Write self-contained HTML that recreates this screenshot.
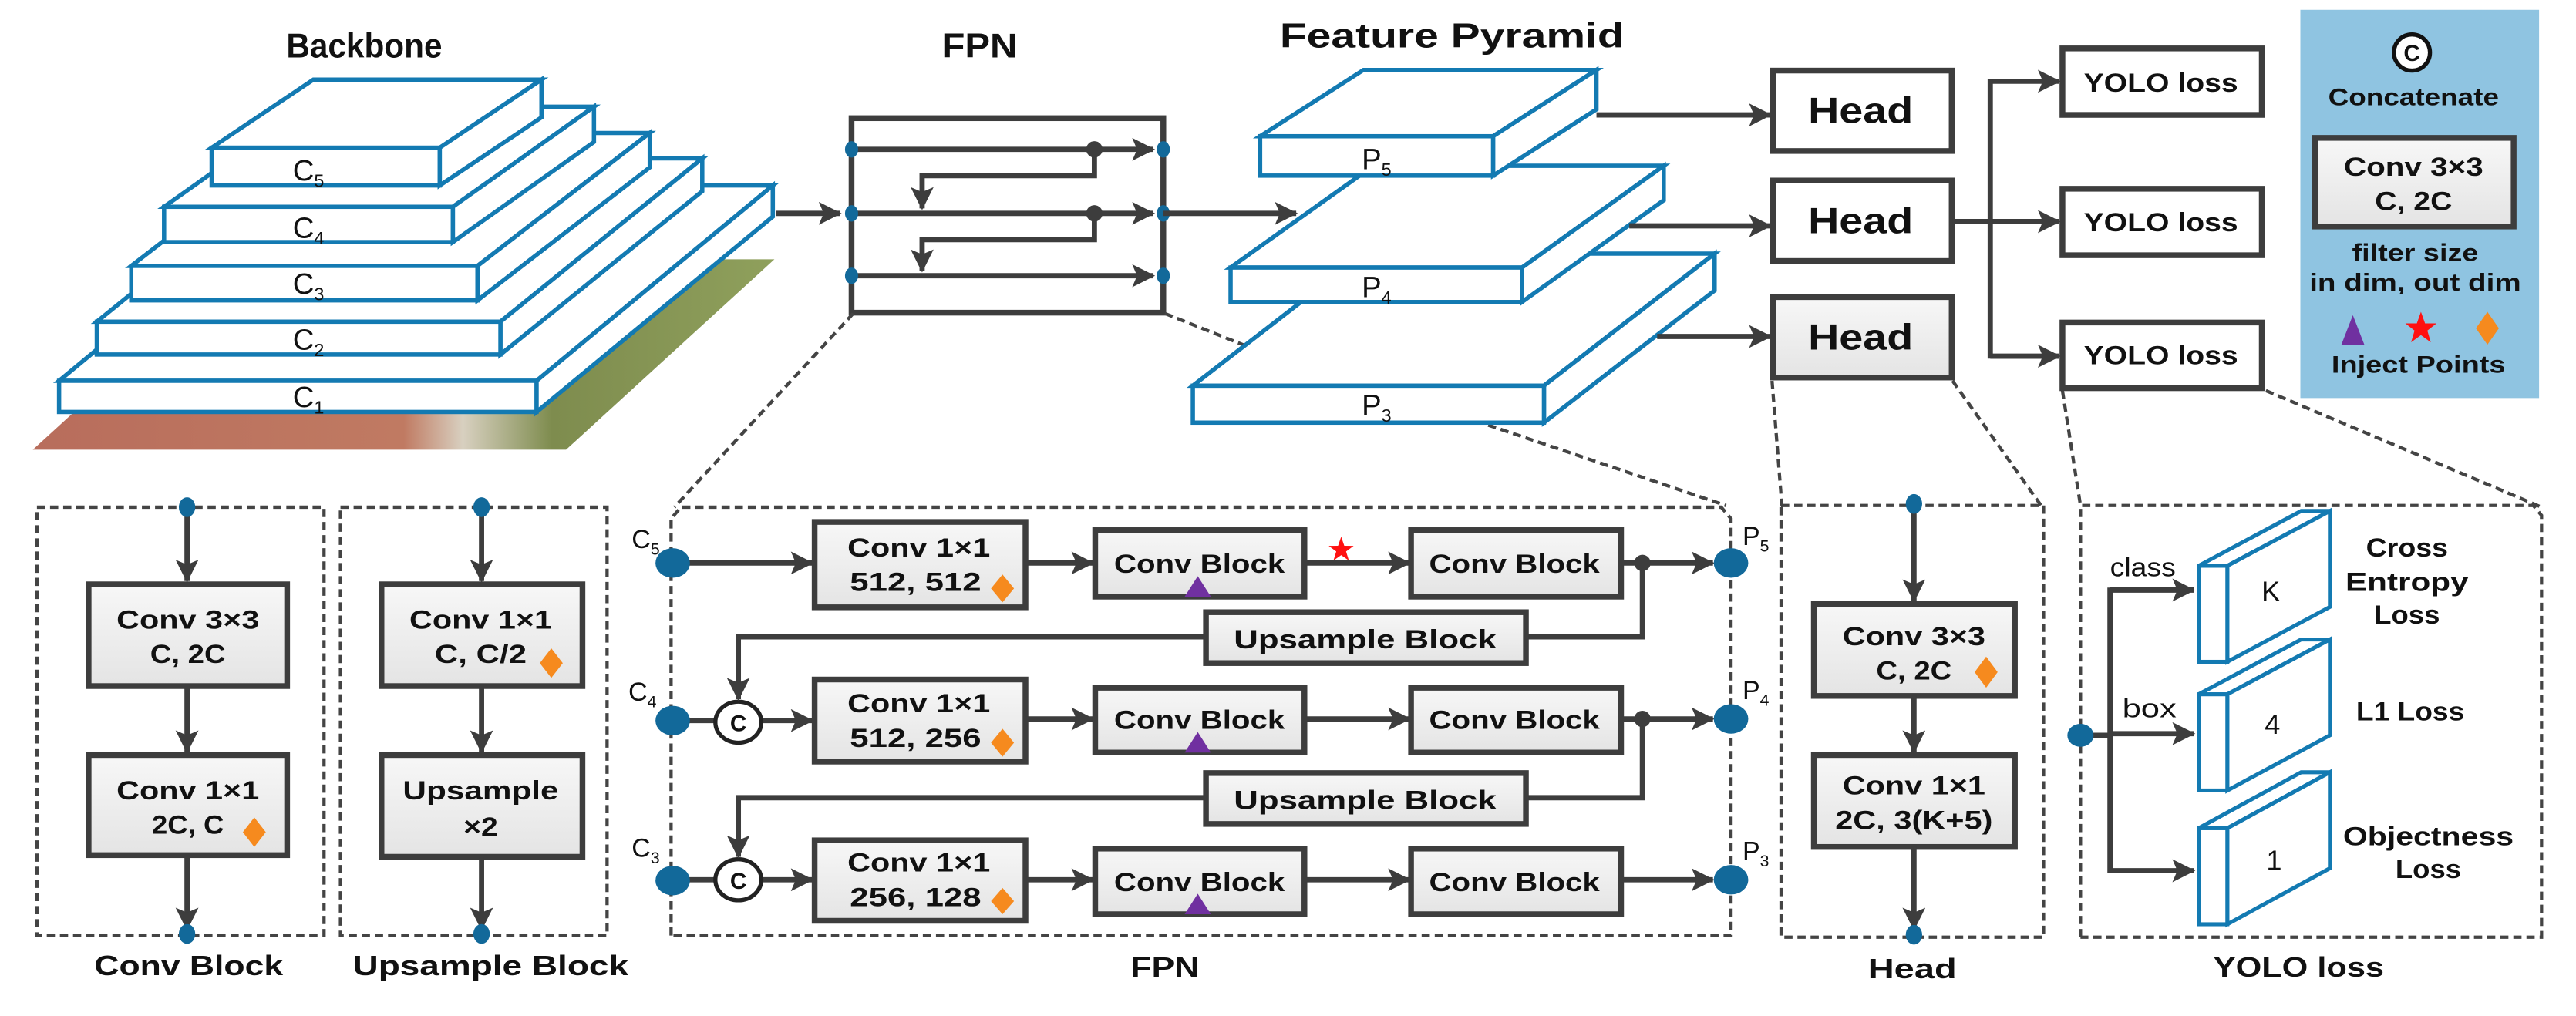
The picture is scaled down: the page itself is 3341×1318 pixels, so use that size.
<!DOCTYPE html>
<html><head><meta charset="utf-8"><style>
html,body{margin:0;padding:0;background:#fff;}
svg{display:block;}
text{font-family:"Liberation Sans",sans-serif;fill:#111;}
.b{font-weight:bold;}
</style></head><body>
<svg width="3341" height="1318" viewBox="0 0 1570 619" preserveAspectRatio="none" xmlns="http://www.w3.org/2000/svg">
<defs>
<marker id="a" markerUnits="userSpaceOnUse" markerWidth="14" markerHeight="14" refX="13" refY="7" orient="auto"><path d="M0,0 L14,7 L0,14 L3,7 z" fill="#3d3d3d"/></marker>
<linearGradient id="g" x1="0" y1="0" x2="0" y2="1"><stop offset="0" stop-color="#f7f7f7"/><stop offset="1" stop-color="#e4e4e4"/></linearGradient>
<linearGradient id="ph" x1="0" y1="0" x2="1" y2="0"><stop offset="0" stop-color="#b86d5c"/><stop offset="0.5" stop-color="#c07a62"/><stop offset="0.58" stop-color="#d8d0c0"/><stop offset="0.7" stop-color="#7e8c4e"/><stop offset="1" stop-color="#8fa05c"/></linearGradient>
</defs>
<g fill="none" stroke="#3d3d3d" stroke-width="3.2">

<!-- photo -->
<polygon points="20,274 345,274 472,158 147,158" fill="url(#ph)" stroke="none"/>

<!-- backbone slabs -->
<g stroke="#137ab2" stroke-width="2.6" fill="#fff" stroke-linejoin="miter">
<polygon points="36,232 180,113 471,113 327,232"/><polygon points="327,232 471,113 471,132 327,251"/><rect x="36" y="232" width="291" height="19"/>
<polygon points="59,196 182,96.5 428,96.5 305,196"/><polygon points="305,196 428,96.5 428,116.5 305,216"/><rect x="59" y="196" width="246" height="20"/>
<polygon points="80,162 185,81 396,81 291,162"/><polygon points="291,162 396,81 396,102 291,183"/><rect x="80" y="162" width="211" height="21"/>
<polygon points="100,126 186,65 362,65 276,126"/><polygon points="276,126 362,65 362,86.5 276,147.5"/><rect x="100" y="126" width="176" height="21.5"/>
<polygon points="129,90 191,48.5 330,48.5 268,90"/><polygon points="268,90 330,48.5 330,71.5 268,113"/><rect x="129" y="90" width="139" height="23"/>
</g>

<!-- backbone -> FPN arrow -->
<line x1="473" y1="130" x2="512" y2="130" marker-end="url(#a)"/>

<!-- FPN small -->
<rect x="519" y="72" width="190" height="118.5" stroke-width="3.5"/>
<line x1="519" y1="91" x2="703" y2="91" marker-end="url(#a)"/>
<line x1="519" y1="130" x2="703" y2="130" marker-end="url(#a)"/>
<line x1="519" y1="168" x2="703" y2="168" marker-end="url(#a)"/>
<polyline points="667,91 667,107 562,107 562,127" marker-end="url(#a)"/>
<polyline points="667,130 667,146 562,146 562,165" marker-end="url(#a)"/>
<circle cx="667" cy="91" r="5" fill="#3d3d3d" stroke="none"/>
<circle cx="667" cy="130" r="5" fill="#3d3d3d" stroke="none"/>
<g fill="#12699a" stroke="none">
<ellipse cx="519" cy="91" rx="4" ry="5"/><ellipse cx="519" cy="130" rx="4" ry="5"/><ellipse cx="519" cy="168" rx="4" ry="5"/>
<ellipse cx="709" cy="91" rx="4" ry="5"/><ellipse cx="709" cy="130" rx="4" ry="5"/><ellipse cx="709" cy="168" rx="4" ry="5"/>
</g>

<!-- dashed zoom lines -->
<g stroke="#444" stroke-width="2" stroke-dasharray="5,3">
<line x1="520" y1="191" x2="411" y2="309"/>
<line x1="710" y1="191" x2="770" y2="215"/>
<line x1="907" y1="259" x2="1052" y2="308"/>
<line x1="1080" y1="232" x2="1086" y2="308"/>
<line x1="1190" y1="232" x2="1244" y2="308"/>
<line x1="1257" y1="238" x2="1268" y2="308"/>
<line x1="1381" y1="238" x2="1549" y2="309"/>
</g>

<!-- pyramid -->
<g stroke="#137ab2" stroke-width="2.6" fill="#fff">
<polygon points="727,235 831,154.5 1045,154.5 941,235"/><polygon points="941,235 1045,154.5 1045,177 941,257.5"/><rect x="727" y="235" width="214" height="22.5"/>
<polygon points="750,163 837,101 1014,101 927.6,163"/><polygon points="927.6,163 1014,101 1014,122 927.6,184"/><rect x="750" y="163" width="177.6" height="21"/>
<polygon points="768,83 831,42.6 973,42.6 910,83"/><polygon points="910,83 973,42.6 973,66.6 910,107"/><rect x="768" y="83" width="142" height="24"/>
</g>
<line x1="709" y1="130" x2="790" y2="130" marker-end="url(#a)"/>

<!-- pyramid -> heads -->
<line x1="973" y1="70" x2="1079" y2="70" marker-end="url(#a)"/>
<line x1="993" y1="137.6" x2="1079" y2="137.6" marker-end="url(#a)"/>
<line x1="1010" y1="205" x2="1079" y2="205" marker-end="url(#a)"/>
<rect x="1080.5" y="43" width="109" height="49" fill="#fff" stroke-width="3.5"/>
<rect x="1080.5" y="110" width="109" height="49" fill="#fff" stroke-width="3.5"/>
<rect x="1080.5" y="181" width="109" height="49" fill="url(#g)" stroke-width="3.5"/>

<!-- heads -> yolo -->
<line x1="1190" y1="135" x2="1255" y2="135" marker-end="url(#a)"/>
<polyline points="1255,49.5 1213,49.5 1213,217 1255,217" stroke="none"/>
<line x1="1213" y1="49.5" x2="1255" y2="49.5" marker-end="url(#a)"/>
<line x1="1213" y1="217" x2="1255" y2="217" marker-end="url(#a)"/>
<line x1="1213" y1="48" x2="1213" y2="218.5"/>
<rect x="1257" y="29.5" width="121.5" height="40.5" fill="#fff" stroke-width="3.5"/>
<rect x="1257" y="115" width="121.5" height="40.5" fill="#fff" stroke-width="3.5"/>
<rect x="1257" y="196.5" width="121.5" height="40" fill="#fff" stroke-width="3.5"/>

<!-- legend -->
<rect x="1402" y="6" width="145.5" height="236.5" fill="#8fc4e1" stroke="none"/>
<circle cx="1470" cy="32" r="11" fill="#fff" stroke="#111" stroke-width="2.5"/>
<rect x="1411" y="84" width="121" height="54" fill="url(#g)" stroke-width="3.5"/>

<!-- bottom dashed boxes -->
<g stroke="#444" stroke-width="2" stroke-dasharray="5,3">
<rect x="22.5" y="309" width="175" height="261"/>
<rect x="207.5" y="309" width="162.5" height="261"/>
<polyline points="409,570 409,316 415,309 1049,309 1055,316 1055,570 409,570"/>
<rect x="1085.5" y="308" width="160" height="263"/>
<polyline points="1268,571 1268,308 1544,308 1549,314 1549,571 1268,571"/>
</g>

<!-- conv block detail -->
<line x1="114" y1="309" x2="114" y2="354" marker-end="url(#a)"/>
<rect x="54" y="356" width="121" height="62" fill="url(#g)" stroke-width="3.5"/>
<line x1="114" y1="418" x2="114" y2="458" marker-end="url(#a)"/>
<rect x="54" y="460" width="121" height="61" fill="url(#g)" stroke-width="3.5"/>
<line x1="114" y1="521" x2="114" y2="566" marker-end="url(#a)"/>
<!-- upsample detail -->
<line x1="293.5" y1="309" x2="293.5" y2="354" marker-end="url(#a)"/>
<rect x="232.5" y="356" width="122.5" height="62" fill="url(#g)" stroke-width="3.5"/>
<line x1="293.5" y1="418" x2="293.5" y2="458" marker-end="url(#a)"/>
<rect x="232.5" y="460" width="122.5" height="62" fill="url(#g)" stroke-width="3.5"/>
<line x1="293.5" y1="522" x2="293.5" y2="566" marker-end="url(#a)"/>

<!-- FPN detail -->
<line x1="418" y1="343" x2="495" y2="343" marker-end="url(#a)"/>
<line x1="418" y1="439" x2="436" y2="439"/>
<line x1="418" y1="536" x2="436" y2="536"/>
<line x1="465" y1="439" x2="495" y2="439" marker-end="url(#a)"/>
<line x1="465" y1="536" x2="495" y2="536" marker-end="url(#a)"/>
<ellipse cx="450" cy="440" rx="14" ry="12.5" fill="#fff" stroke="#222" stroke-width="2.5"/>
<ellipse cx="450" cy="536" rx="14" ry="12.5" fill="#fff" stroke="#222" stroke-width="2.5"/>
<rect x="496.5" y="318" width="128.5" height="52" fill="url(#g)" stroke-width="3.5"/>
<rect x="496.5" y="414" width="128.5" height="50" fill="url(#g)" stroke-width="3.5"/>
<rect x="496.5" y="512" width="128.5" height="49" fill="url(#g)" stroke-width="3.5"/>
<line x1="625" y1="343" x2="666" y2="343" marker-end="url(#a)"/>
<line x1="625" y1="438" x2="666" y2="438" marker-end="url(#a)"/>
<line x1="625" y1="536" x2="666" y2="536" marker-end="url(#a)"/>
<rect x="667.5" y="323" width="127.5" height="40.5" fill="url(#g)" stroke-width="3.5"/>
<rect x="667.5" y="419" width="127.5" height="39.5" fill="url(#g)" stroke-width="3.5"/>
<rect x="667.5" y="517" width="127.5" height="40" fill="url(#g)" stroke-width="3.5"/>
<line x1="795" y1="343" x2="859" y2="343" marker-end="url(#a)"/>
<line x1="795" y1="438" x2="859" y2="438" marker-end="url(#a)"/>
<line x1="795" y1="536" x2="859" y2="536" marker-end="url(#a)"/>
<rect x="860" y="323" width="128" height="40.5" fill="url(#g)" stroke-width="3.5"/>
<rect x="860" y="419" width="128" height="39.5" fill="url(#g)" stroke-width="3.5"/>
<rect x="860" y="517" width="128" height="40" fill="url(#g)" stroke-width="3.5"/>
<line x1="988" y1="343" x2="1044" y2="343" marker-end="url(#a)"/>
<line x1="988" y1="438" x2="1044" y2="438" marker-end="url(#a)"/>
<line x1="988" y1="536" x2="1044" y2="536" marker-end="url(#a)"/>
<polyline points="1001,343 1001,388 930,388"/>
<polyline points="1001,438 1001,486 930,486"/>
<rect x="735" y="373" width="195" height="31" fill="url(#g)" stroke-width="3.5"/>
<rect x="735" y="471" width="195" height="31" fill="url(#g)" stroke-width="3.5"/>
<polyline points="735,388 450,388 450,426" marker-end="url(#a)"/>
<polyline points="735,486 450,486 450,522" marker-end="url(#a)"/>
<circle cx="1001" cy="343" r="5" fill="#3d3d3d" stroke="none"/>
<circle cx="1001" cy="438" r="5" fill="#3d3d3d" stroke="none"/>

<!-- head detail -->
<line x1="1166.5" y1="307" x2="1166.5" y2="366" marker-end="url(#a)"/>
<rect x="1105.5" y="368" width="122.5" height="56" fill="url(#g)" stroke-width="3.5"/>
<line x1="1166.5" y1="424" x2="1166.5" y2="458" marker-end="url(#a)"/>
<rect x="1105.5" y="460" width="122.5" height="56" fill="url(#g)" stroke-width="3.5"/>
<line x1="1166.5" y1="516" x2="1166.5" y2="566" marker-end="url(#a)"/>

<!-- yolo detail -->
<line x1="1268" y1="448" x2="1286" y2="448"/>
<line x1="1286" y1="358" x2="1286" y2="532"/>
<line x1="1286" y1="359.5" x2="1337" y2="359.5" marker-end="url(#a)"/>
<line x1="1286" y1="447" x2="1337" y2="447" marker-end="url(#a)"/>
<line x1="1286" y1="530.5" x2="1337" y2="530.5" marker-end="url(#a)"/>
<g stroke="#137ab2" stroke-width="2.4" fill="#fff">
<polygon points="1340,344.7 1357.5,344.7 1420,311.3 1402.5,311.3"/><polygon points="1357.5,344.7 1420,311.3 1420,369.8 1357.5,403.2"/><rect x="1340" y="344.7" width="17.5" height="58.5"/>
<polygon points="1340,423 1357.5,423 1420,389.6 1402.5,389.6"/><polygon points="1357.5,423 1420,389.6 1420,448 1357.5,481.6"/><rect x="1340" y="423" width="17.5" height="58.6"/>
<polygon points="1340,504.6 1357.5,504.6 1420,470.5 1402.5,470.5"/><polygon points="1357.5,504.6 1420,470.5 1420,529 1357.5,563.1"/><rect x="1340" y="504.6" width="17.5" height="58.5"/>
</g>
</g>

<!-- blue dots -->
<g fill="#12699a">
<ellipse cx="114" cy="309" rx="5" ry="6"/><ellipse cx="114" cy="569" rx="5" ry="6"/>
<ellipse cx="293.5" cy="309" rx="5" ry="6"/><ellipse cx="293.5" cy="569" rx="5" ry="6"/>
<ellipse cx="410" cy="343" rx="10.5" ry="9"/><ellipse cx="410" cy="439" rx="10.5" ry="9"/><ellipse cx="410" cy="536.5" rx="10.5" ry="9"/>
<ellipse cx="1055" cy="343" rx="10.5" ry="9"/><ellipse cx="1055" cy="438" rx="10.5" ry="9"/><ellipse cx="1055" cy="536" rx="10.5" ry="9"/>
<ellipse cx="1166.5" cy="307" rx="5" ry="6"/><ellipse cx="1166.5" cy="569.5" rx="5" ry="6"/>
<ellipse cx="1268" cy="448" rx="8" ry="7"/>
</g>

<!-- inject markers -->
<g fill="#f68a1e">
<polygon points="155,498 162,507 155,516 148,507"/>
<polygon points="336,395 343,404 336,413 329,404"/>
<polygon points="611,350 618,358.5 611,367 604,358.5"/>
<polygon points="611,444 618,452.5 611,461 604,452.5"/>
<polygon points="611,541 618,549 611,557 604,549"/>
<polygon points="1210.5,400 1217.5,409.5 1210.5,419 1203.5,409.5"/>
<polygon points="1516,190 1523,200 1516,210 1509,200"/>
</g>
<g fill="#7030a0">
<polygon points="722,363.5 738,363.5 730,351"/>
<polygon points="722,458.5 738,458.5 730,446"/>
<polygon points="722,557 738,557 730,544.5"/>
<polygon points="1427,210 1441,210 1434,192"/>
</g>
<g fill="#ff1010">
<polygon points="817.4,327 819.3,332.5 825,332.6 820.4,336 822.1,341.5 817.4,338.2 812.7,341.5 814.4,336 809.8,332.6 815.5,332.5"/>
<polygon points="1475.5,190 1478,197 1485,197 1479.4,201.4 1481.5,208.5 1475.5,204.2 1469.5,208.5 1471.6,201.4 1466,197 1473,197"/>
</g>

<!-- text -->
<g class="b" text-anchor="middle">
<text x="222" y="35" font-size="21" class="b" textLength="95" lengthAdjust="spacingAndGlyphs" font-weight="bold">Backbone</text>
<text x="597" y="35" font-size="21" font-weight="bold" textLength="46" lengthAdjust="spacingAndGlyphs">FPN</text>
<text x="885" y="29" font-size="21" font-weight="bold" textLength="210" lengthAdjust="spacingAndGlyphs">Feature Pyramid</text>
<g font-size="22" font-weight="bold">
<text x="1134" y="75" textLength="64" lengthAdjust="spacingAndGlyphs">Head</text>
<text x="1134" y="142" textLength="64" lengthAdjust="spacingAndGlyphs">Head</text>
<text x="1134" y="213" textLength="64" lengthAdjust="spacingAndGlyphs">Head</text>
</g>
<g font-size="16" font-weight="bold">
<text x="1317" y="56" textLength="94" lengthAdjust="spacingAndGlyphs">YOLO loss</text>
<text x="1317" y="141" textLength="94" lengthAdjust="spacingAndGlyphs">YOLO loss</text>
<text x="1317" y="222" textLength="94" lengthAdjust="spacingAndGlyphs">YOLO loss</text>
</g>
<g font-size="15" font-weight="bold">
<text x="1470" y="37" font-size="14">C</text>
<text x="1471" y="64" textLength="104" lengthAdjust="spacingAndGlyphs">Concatenate</text>
<text x="1471" y="107" font-size="16" textLength="85" lengthAdjust="spacingAndGlyphs">Conv 3×3</text>
<text x="1471" y="128" font-size="16" textLength="47" lengthAdjust="spacingAndGlyphs">C, 2C</text>
<text x="1472" y="159" textLength="77" lengthAdjust="spacingAndGlyphs">filter size</text>
<text x="1472" y="177" textLength="129" lengthAdjust="spacingAndGlyphs">in dim, out dim</text>
<text x="1474" y="227" textLength="106" lengthAdjust="spacingAndGlyphs">Inject Points</text>
</g>
<g font-size="16" font-weight="bold">
<text x="114.5" y="383" textLength="87" lengthAdjust="spacingAndGlyphs">Conv 3×3</text>
<text x="114.5" y="404" textLength="46" lengthAdjust="spacingAndGlyphs">C, 2C</text>
<text x="114.5" y="487" textLength="87" lengthAdjust="spacingAndGlyphs">Conv 1×1</text>
<text x="114.5" y="508" textLength="44" lengthAdjust="spacingAndGlyphs">2C, C</text>
<text x="293" y="383" textLength="87" lengthAdjust="spacingAndGlyphs">Conv 1×1</text>
<text x="293" y="404" textLength="56" lengthAdjust="spacingAndGlyphs">C, C/2</text>
<text x="293" y="487" textLength="95" lengthAdjust="spacingAndGlyphs">Upsample</text>
<text x="293" y="509" textLength="21" lengthAdjust="spacingAndGlyphs">×2</text>
<text x="560" y="339" textLength="87" lengthAdjust="spacingAndGlyphs">Conv 1×1</text>
<text x="558" y="360" textLength="80" lengthAdjust="spacingAndGlyphs">512, 512</text>
<text x="560" y="434" textLength="87" lengthAdjust="spacingAndGlyphs">Conv 1×1</text>
<text x="558" y="455" textLength="80" lengthAdjust="spacingAndGlyphs">512, 256</text>
<text x="560" y="531" textLength="87" lengthAdjust="spacingAndGlyphs">Conv 1×1</text>
<text x="558" y="552" textLength="80" lengthAdjust="spacingAndGlyphs">256, 128</text>
<text x="731" y="349" textLength="104" lengthAdjust="spacingAndGlyphs">Conv Block</text>
<text x="731" y="444" textLength="104" lengthAdjust="spacingAndGlyphs">Conv Block</text>
<text x="731" y="543" textLength="104" lengthAdjust="spacingAndGlyphs">Conv Block</text>
<text x="923" y="349" textLength="104" lengthAdjust="spacingAndGlyphs">Conv Block</text>
<text x="923" y="444" textLength="104" lengthAdjust="spacingAndGlyphs">Conv Block</text>
<text x="923" y="543" textLength="104" lengthAdjust="spacingAndGlyphs">Conv Block</text>
<text x="832" y="395" textLength="160" lengthAdjust="spacingAndGlyphs">Upsample Block</text>
<text x="832" y="493" textLength="160" lengthAdjust="spacingAndGlyphs">Upsample Block</text>
<text x="1166.5" y="393" textLength="87" lengthAdjust="spacingAndGlyphs">Conv 3×3</text>
<text x="1166.5" y="414" textLength="46" lengthAdjust="spacingAndGlyphs">C, 2C</text>
<text x="1166.5" y="484" textLength="87" lengthAdjust="spacingAndGlyphs">Conv 1×1</text>
<text x="1166.5" y="505" textLength="96" lengthAdjust="spacingAndGlyphs">2C, 3(K+5)</text>
<text x="1467" y="339" textLength="50" lengthAdjust="spacingAndGlyphs">Cross</text>
<text x="1467" y="360" textLength="75" lengthAdjust="spacingAndGlyphs">Entropy</text>
<text x="1467" y="380" textLength="40" lengthAdjust="spacingAndGlyphs">Loss</text>
<text x="1469" y="439" textLength="66" lengthAdjust="spacingAndGlyphs">L1 Loss</text>
<text x="1480" y="515" textLength="104" lengthAdjust="spacingAndGlyphs">Objectness</text>
<text x="1480" y="535" textLength="40" lengthAdjust="spacingAndGlyphs">Loss</text>
</g>
<g font-size="17" font-weight="bold">
<text x="115" y="594" textLength="115" lengthAdjust="spacingAndGlyphs">Conv Block</text>
<text x="299" y="594" textLength="168" lengthAdjust="spacingAndGlyphs">Upsample Block</text>
<text x="710" y="595" textLength="42" lengthAdjust="spacingAndGlyphs">FPN</text>
<text x="1165.5" y="596" textLength="54" lengthAdjust="spacingAndGlyphs">Head</text>
<text x="1401" y="595" textLength="104" lengthAdjust="spacingAndGlyphs">YOLO loss</text>
</g>
<g font-size="16" font-weight="bold">
<text x="450" y="445.5" font-size="14">C</text>
<text x="450" y="541.5" font-size="14">C</text>
</g>
</g>

<g text-anchor="middle" font-size="18">
<text x="188" y="110">C<tspan font-size="11" dy="4">5</tspan></text>
<text x="188" y="145">C<tspan font-size="11" dy="4">4</tspan></text>
<text x="188" y="179">C<tspan font-size="11" dy="4">3</tspan></text>
<text x="188" y="213">C<tspan font-size="11" dy="4">2</tspan></text>
<text x="188" y="248">C<tspan font-size="11" dy="4">1</tspan></text>
<text x="839" y="103">P<tspan font-size="11" dy="4">5</tspan></text>
<text x="839" y="181">P<tspan font-size="11" dy="4">4</tspan></text>
<text x="839" y="253">P<tspan font-size="11" dy="4">3</tspan></text>
</g>
<g font-size="16">
<text x="385" y="334">C<tspan font-size="10" dy="4">5</tspan></text>
<text x="383" y="427">C<tspan font-size="10" dy="4">4</tspan></text>
<text x="385" y="522">C<tspan font-size="10" dy="4">3</tspan></text>
<text x="1062" y="332">P<tspan font-size="10" dy="4">5</tspan></text>
<text x="1062" y="426">P<tspan font-size="10" dy="4">4</tspan></text>
<text x="1062" y="524">P<tspan font-size="10" dy="4">3</tspan></text>
<text x="1306" y="351" text-anchor="middle" textLength="40" lengthAdjust="spacingAndGlyphs">class</text>
<text x="1310" y="437" text-anchor="middle" textLength="33" lengthAdjust="spacingAndGlyphs">box</text>
<text x="1384" y="366" text-anchor="middle" font-size="17">K</text>
<text x="1385" y="447" text-anchor="middle" font-size="17">4</text>
<text x="1386" y="530" text-anchor="middle" font-size="17">1</text>
</g>
</svg>
</body></html>
